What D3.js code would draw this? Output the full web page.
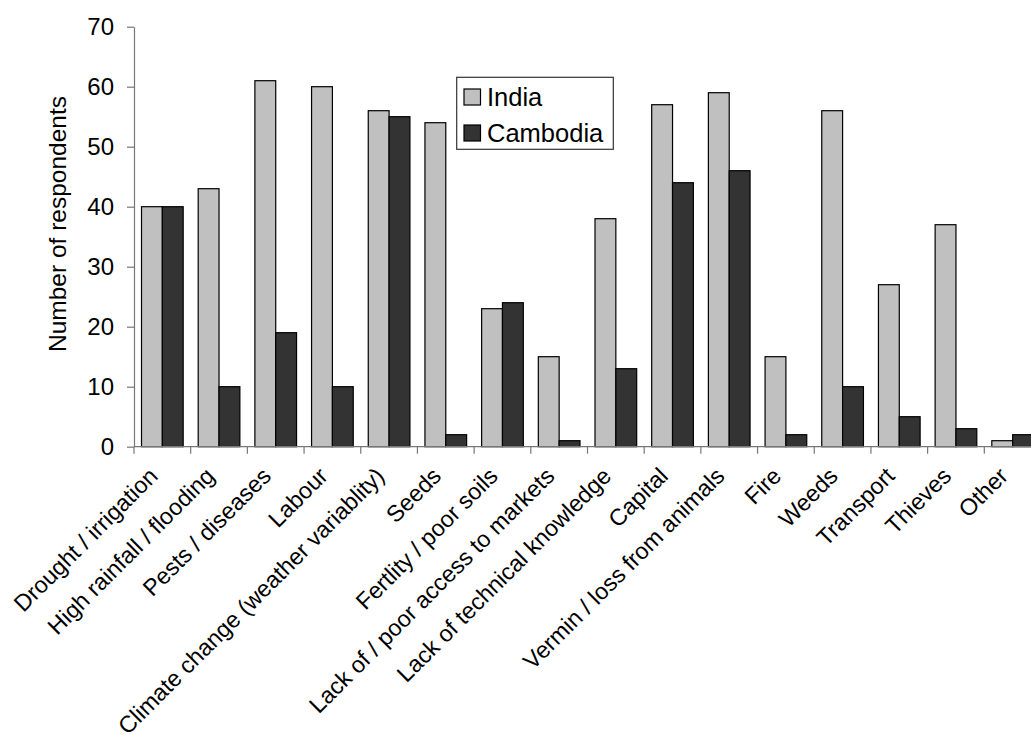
<!DOCTYPE html>
<html>
<head>
<meta charset="utf-8">
<script src="https://cdn.jsdelivr.net/npm/d3@7"></script>
<style>
  html, body { margin: 0; padding: 0; background: #fff; }
  svg { display: block; font-family: "Liberation Sans", Arial, Helvetica, sans-serif; }
</style>
</head>
<body>
<svg id="chart" width="1031" height="735"></svg>
<script>
const categories = [
  "Drought / irrigation", "High rainfall / flooding", "Pests / diseases", "Labour",
  "Climate change (weather variablity)", "Seeds", "Fertlity / poor soils",
  "Lack of / poor access to markets", "Lack of technical knowledge", "Capital",
  "Vermin / loss from animals", "Fire", "Weeds", "Transport", "Thieves", "Other"
];
const seriesNames = ["India", "Cambodia"];
const india =    [40, 43, 61, 60, 56, 54, 23, 15, 38, 57, 59, 15, 56, 27, 37, 1];
const cambodia = [40, 10, 19, 10, 55,  2, 24,  1, 13, 44, 46,  2, 10,  5,  3, 2];
const yTicks = [0, 10, 20, 30, 40, 50, 60, 70];
const colors = ["#c0c0c0", "#333333"];

const svg = d3.select("#chart");
const x0 = 134, x1 = 1041, yBottom = 446.7, yTop = 26.7;

const x = d3.scaleBand().domain(categories).range([x0, x1]).paddingInner(0).paddingOuter(0);
const xs = d3.scaleBand().domain(seriesNames).range([0, x.bandwidth()]).paddingInner(0).paddingOuter(0.36);
const y = d3.scaleLinear().domain([0, 70]).range([yBottom, yTop]);

const data = categories.map((c, i) => ({cat: c, vals: [india[i], cambodia[i]]}));

// bars
const g = svg.append("g");
g.selectAll("g.cat").data(data).join("g")
  .attr("transform", d => `translate(${x(d.cat)},0)`)
  .selectAll("rect").data(d => d.vals.map((v, j) => ({name: seriesNames[j], v, j})))
  .join("rect")
  .attr("x", d => xs(d.name))
  .attr("width", xs.bandwidth())
  .attr("y", d => y(d.v))
  .attr("height", d => yBottom - y(d.v))
  .attr("fill", d => colors[d.j])
  .attr("stroke", "#000")
  .attr("stroke-width", 1.2);

// y axis
const yAxis = d3.axisLeft(y).tickValues(yTicks).tickSize(7).tickPadding(13).tickSizeOuter(0);
const yg = svg.append("g").attr("transform", `translate(${x0},0)`).call(yAxis);
yg.select(".domain").attr("stroke", "#777").attr("stroke-width", 1.2);
yg.selectAll(".tick line").attr("stroke", "#777").attr("stroke-width", 1.2);
yg.selectAll(".tick text").attr("font-size", 24).attr("fill", "#000")
  .attr("font-family", "Liberation Sans, Arial, sans-serif");

// x axis
const xTickScale = d3.scaleLinear().domain([0, categories.length]).range([x0, x1]);
const xAxisG = svg.append("g").attr("transform", `translate(0,${yBottom})`);
xAxisG.append("line").attr("x1", x0).attr("x2", x1).attr("y1", 0).attr("y2", 0)
  .attr("stroke", "#777").attr("stroke-width", 1.2);
xAxisG.selectAll("line.tk").data(d3.range(categories.length + 1)).join("line")
  .attr("class", "tk")
  .attr("x1", d => xTickScale(d)).attr("x2", d => xTickScale(d))
  .attr("y1", 0).attr("y2", 7).attr("stroke", "#777").attr("stroke-width", 1.2);
xAxisG.selectAll("text").data(categories).join("text")
  .attr("transform", d => `translate(${x(d) + x.bandwidth() / 2 - 9},${25}) rotate(-45)`)
  .attr("text-anchor", "end")
  .attr("dy", "0.35em")
  .attr("font-size", 23.3)
  .attr("fill", "#000")
  .text(d => d);

// y title
svg.append("text")
  .attr("transform", `translate(66,${224}) rotate(-90)`)
  .attr("text-anchor", "middle")
  .attr("font-size", 24.5)
  .attr("fill", "#000")
  .text("Number of respondents");

// legend
const lg = svg.append("g");
lg.append("rect").attr("x", 456.7).attr("y", 77.3).attr("width", 156.6).attr("height", 72)
  .attr("fill", "#fff").attr("stroke", "#333").attr("stroke-width", 1.2);
seriesNames.forEach((s, i) => {
  const yy = 89 + i * 36;
  lg.append("rect").attr("x", 464).attr("y", yy).attr("width", 16.5).attr("height", 16)
    .attr("fill", colors[i]).attr("stroke", "#000").attr("stroke-width", 1.2);
  lg.append("text").attr("x", 487).attr("y", yy + 8).attr("dy", "0.35em")
    .attr("font-size", 25.5).attr("fill", "#000").text(s);
});
</script>
</body>
</html>
